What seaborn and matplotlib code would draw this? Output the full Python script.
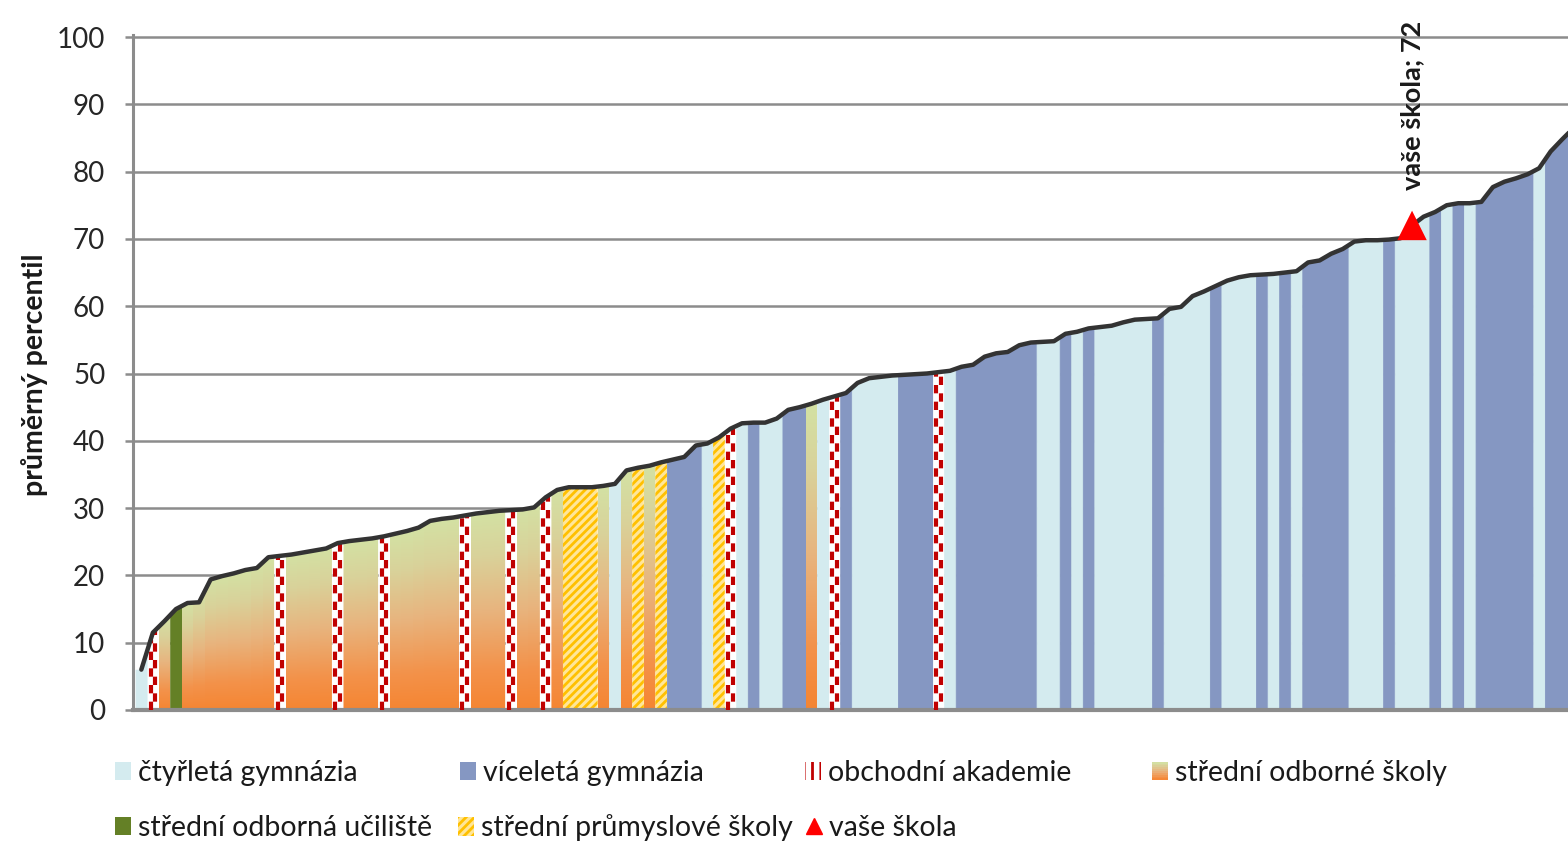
"""Average percentile of schools, sorted, coloured by school type."""

import numpy as np
import matplotlib

matplotlib.use("Agg")
import matplotlib.pyplot as plt
from matplotlib.colors import LinearSegmentedColormap
from matplotlib.legend_handler import HandlerBase
from matplotlib.lines import Line2D
from matplotlib.patches import Patch, Polygon, Rectangle
import seaborn as sns

# one value per school, sorted ascending
percentile = [
    6.0, 11.5, 13.2, 15.0, 15.9, 16.0, 19.4, 19.9, 20.3, 20.8,
    21.1, 22.7, 22.9, 23.1, 23.4, 23.7, 24.0, 24.8, 25.1, 25.3,
    25.5, 25.8, 26.2, 26.6, 27.1, 28.1, 28.4, 28.6, 28.9, 29.2,
    29.4, 29.6, 29.7, 29.8, 30.1, 31.6, 32.7, 33.1, 33.1, 33.1,
    33.3, 33.6, 35.6, 36.0, 36.3, 36.8, 37.2, 37.6, 39.3, 39.6,
    40.5, 41.8, 42.6, 42.7, 42.7, 43.3, 44.6, 45.0, 45.5, 46.1,
    46.6, 47.1, 48.6, 49.3, 49.5, 49.7, 49.8, 49.9, 50.0, 50.2,
    50.4, 51.0, 51.3, 52.5, 53.0, 53.2, 54.2, 54.6, 54.7, 54.8,
    55.9, 56.2, 56.7, 56.9, 57.1, 57.6, 58.0, 58.1, 58.2, 59.6,
    59.9, 61.5, 62.2, 63.0, 63.8, 64.3, 64.6, 64.7, 64.8, 65.0,
    65.2, 66.5, 66.8, 67.8, 68.5, 69.6, 69.8, 69.8, 69.9, 70.1,
    72.0, 73.3, 74.0, 75.0, 75.3, 75.3, 75.5, 77.7, 78.5, 79.0,
    79.6, 80.5, 83.0, 84.8, 86.5,
]

# school types as (type, number of consecutive schools)
type_runs = [
    ("G4", 1), ("OA", 1), ("SOS", 1), ("SOU", 1), ("SOS", 8), ("OA", 1),
    ("SOS", 4), ("OA", 1), ("SOS", 3), ("OA", 1), ("SOS", 6), ("OA", 1),
    ("SOS", 3), ("OA", 1), ("SOS", 2), ("OA", 1), ("SOS", 1), ("SPS", 3),
    ("SOS", 1), ("G4", 1), ("SOS", 1), ("SPS", 1), ("SOS", 1), ("SPS", 1),
    ("GV", 3), ("G4", 1), ("SPS", 1), ("OA", 1), ("G4", 1), ("GV", 1),
    ("G4", 2), ("GV", 2), ("SOS", 1), ("G4", 1), ("OA", 1), ("GV", 1),
    ("G4", 4), ("GV", 3), ("OA", 1), ("G4", 1), ("GV", 7), ("G4", 2),
    ("GV", 1), ("G4", 1), ("GV", 1), ("G4", 5), ("GV", 1), ("G4", 4),
    ("GV", 1), ("G4", 3), ("GV", 1), ("G4", 1), ("GV", 1), ("G4", 1),
    ("GV", 4), ("G4", 3), ("GV", 1), ("G4", 3), ("GV", 1), ("G4", 1),
    ("GV", 1), ("G4", 1), ("GV", 5), ("G4", 1), ("GV", 3),
]

type_labels = {
    "G4": "čtyřletá gymnázia",
    "GV": "víceletá gymnázia",
    "OA": "obchodní akademie",
    "SOS": "střední odborné školy",
    "SOU": "střední odborná učiliště",
    "SPS": "střední průmyslové školy",
}
your_school_index = 110
your_school_value = 72
your_school_label = "vaše škola"
y_ticks = list(range(0, 101, 10))

COLORS = {"G4": "#D4EBEF", "GV": "#8597C2", "SOU": "#648026"}
OA_RED = "#C00000"
SPS_FACE, SPS_HATCH = "#FFE699", "#FFC000"
GRID = "#8C8C8C"
TEXT = "#1A1A1A"
sos_cmap = LinearSegmentedColormap.from_list(
    "sos",
    [(0.0, "#F58532"), (0.2, "#F3924A"), (0.5, "#E8B47E"), (0.78, "#D9D29A"), (1.0, "#D3E2A4")],
)


class GradientHandler(HandlerBase):
    def create_artists(self, legend, orig_handle, xdescent, ydescent, width, height, fontsize, trans):
        n = 10
        return [
            Rectangle((-xdescent, -ydescent + k * height / n), width, height / n,
                      facecolor=sos_cmap((k + 0.5) / n), edgecolor="none", transform=trans)
            for k in range(n)
        ]


sns.set_theme(style="white")
plt.rcParams["font.family"] = ["Lato", "DejaVu Sans"]
plt.rcParams["hatch.linewidth"] = 2.0

vals = np.array(percentile)
idx = np.arange(len(vals))
left_top = np.interp(idx - 0.5, idx, vals)
right_top = np.interp(idx + 0.5, idx, vals)

W, H = 1568, 842
fig = plt.figure(figsize=(W / 100, H / 100), dpi=100)
y_top = 100.3
ax = fig.add_axes([133 / W, (H - 710) / H, 1 - 133 / W, y_top * 6.73 / H])

start = 0
for kind, count in type_runs:
    a, b = start, start + count - 1
    start += count
    xs = [a - 0.5] + list(idx[a:b + 1]) + [b + 0.5]
    ys = [left_top[a]] + list(vals[a:b + 1]) + [right_top[b]]
    if kind in COLORS:
        ax.fill_between(xs, 0, ys, color=COLORS[kind], lw=0.6, zorder=2)
    elif kind == "SPS":
        ax.fill_between(xs, 0, ys, facecolor=SPS_FACE, edgecolor=SPS_HATCH,
                        hatch="////", lw=0, zorder=2)
    elif kind == "OA":
        ax.fill_between(xs, 0, ys, color="white", lw=0, zorder=2)
        for off, phase in ((-0.2, 0), (0.2, 2.0)):
            x = np.arange(a, b + 1) + off
            ax.vlines(x, 0, np.interp(x, idx, vals), color=OA_RED, lw=3.0,
                      linestyles=[(phase, (2.0, 2.0))], zorder=3)
    else:  # SOS with vertical gradient
        clip = Polygon(list(zip(xs, ys)) + [(b + 0.5, 0), (a - 0.5, 0)],
                       closed=True, facecolor="none", edgecolor="none")
        ax.add_patch(clip)
        grad = sos_cmap(np.linspace(0, 1, 256))[:, None, :]
        for i in range(a, b + 1):
            top = max(left_top[i], vals[i], right_top[i])
            im = ax.imshow(grad, origin="lower", aspect="auto", interpolation="bilinear",
                           extent=(i - 0.5, i + 0.53, 0, top), zorder=2)
            im.set_clip_path(clip)

sns.lineplot(x=idx, y=vals, color="#333333", lw=3.2, ax=ax, zorder=5, legend=False)
sns.scatterplot(x=[your_school_index], y=[your_school_value], marker="^", s=450,
                color="#FF0000", edgecolor="none", ax=ax, zorder=6, legend=False)
ax.text(your_school_index, your_school_value + 5.3, f"{your_school_label}; {your_school_value}",
        rotation=90, ha="center", va="bottom", fontsize=19.5, fontweight="bold", color=TEXT)

ax.set_xlim(-0.72, 123.5)
ax.set_ylim(0, y_top)
ax.set_yticks(y_ticks)
ax.set_xticks([])
ax.set_xlabel("")
ax.set_axisbelow(True)
ax.yaxis.grid(True, color=GRID, lw=1.8)
for side in ("top", "right"):
    ax.spines[side].set_visible(False)
ax.spines["left"].set_color(GRID)
ax.spines["left"].set_linewidth(2.2)
ax.spines["bottom"].set_color(GRID)
ax.spines["bottom"].set_linewidth(3)
ax.tick_params(axis="y", left=True, length=6, width=1.8, color=GRID, pad=14,
               labelsize=20, labelcolor="#262626")
ax.set_ylabel("průměrný percentil", fontsize=20.5, fontweight="bold", color=TEXT)
ax.yaxis.set_label_coords((48 - 133) / (W - 133), (710 - 375) / (y_top * 6.73))

# legend: one entry per slot, like the original layout
sos_handle = Patch(facecolor="none")
handles = {
    "G4": Patch(facecolor=COLORS["G4"], lw=0),
    "GV": Patch(facecolor=COLORS["GV"], lw=0),
    "OA": Patch(facecolor="white", edgecolor=OA_RED, hatch="||", lw=0),
    "SOS": sos_handle,
    "SOU": Patch(facecolor=COLORS["SOU"], lw=0),
    "SPS": Patch(facecolor=SPS_FACE, edgecolor=SPS_HATCH, hatch="////", lw=0),
    "YOU": Line2D([], [], marker="^", color="#FF0000", ls="none", markersize=12),
}
slots = [
    ("G4", 115, 773), ("GV", 460, 773), ("OA", 805, 773), ("SOS", 1152, 773),
    ("SOU", 115, 828), ("SPS", 458, 828), ("YOU", 806, 828),
]
for key, px, py in slots:
    label = type_labels.get(key, your_school_label)
    fig.legend([handles[key]], [label], loc="center left",
               bbox_to_anchor=(px / W, 1 - py / H), frameon=False, borderpad=0,
               borderaxespad=0, handlelength=0.56, handleheight=0.63,
               handletextpad=0.25, fontsize=20.5, labelcolor=TEXT,
               handler_map={sos_handle: GradientHandler()})

fig.savefig("out.png", dpi=100)
plt.close(fig)
